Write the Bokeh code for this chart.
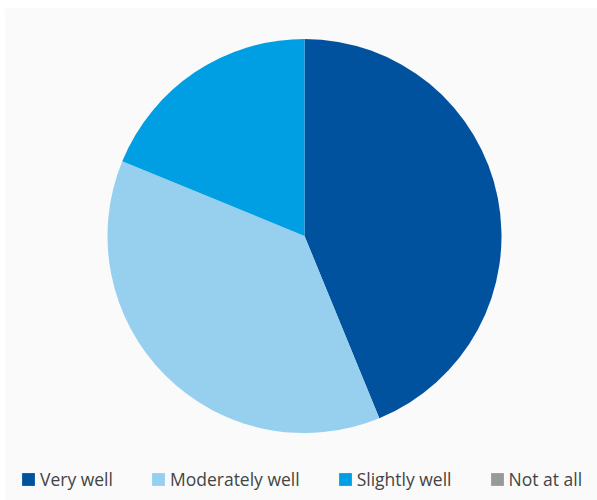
import math
from bokeh.plotting import figure
from bokeh.models import ColumnDataSource, Legend, LegendItem, Range1d
from bokeh.embed import file_html
from bokeh.resources import INLINE

categories = ["Very well", "Moderately well", "Slightly well", "Not at all"]
values = [43.8, 37.4, 18.8, 0]
colors = ["#00529F", "#97CFEE", "#009FE3", "#999999"]

total = sum(values)
starts, ends = [], []
cum = 0.0
for v in values:
    s = math.pi / 2 - 2 * math.pi * cum / total
    cum += v
    e = math.pi / 2 - 2 * math.pi * cum / total
    starts.append(s)
    ends.append(e)

W, H = 597, 500
p = figure(width=W, height=H, output_backend="svg", toolbar_location=None,
           min_border_left=5, min_border_top=8, min_border_right=0, min_border_bottom=0,
           x_range=Range1d(0, 592), y_range=Range1d(0, 492))
p.axis.visible = False
p.grid.visible = False
p.outline_line_color = None
p.background_fill_color = "#FAFAFA"
p.border_fill_color = "#FFFFFF"

cx, cy, r = 299, 264.5, 197
items = []
for i, cat in enumerate(categories):
    src = ColumnDataSource(dict(x=[cx], y=[cy], s=[starts[i]], e=[ends[i]]))
    if values[i] > 0:
        rr = p.wedge(x="x", y="y", radius=r, start_angle="s", end_angle="e",
                     direction="clock", source=src, fill_color=colors[i],
                     line_color=None)
    else:
        rr = p.quad(left=[-100], right=[-90], bottom=[-100], top=[-90],
                    fill_color=colors[i], line_color=None)
    items.append(LegendItem(label=cat, renderers=[rr]))

legend = Legend(items=items, orientation="horizontal", location=(15, 9),
                glyph_width=16, glyph_height=16, label_standoff=4, spacing=37,
                padding=0, margin=0, background_fill_alpha=0, border_line_color=None,
                label_text_font="Open Sans", label_text_font_size="17.5px",
                label_text_color="#444444")
p.add_layout(legend)

open("out.html", "w").write(file_html(p, INLINE))
